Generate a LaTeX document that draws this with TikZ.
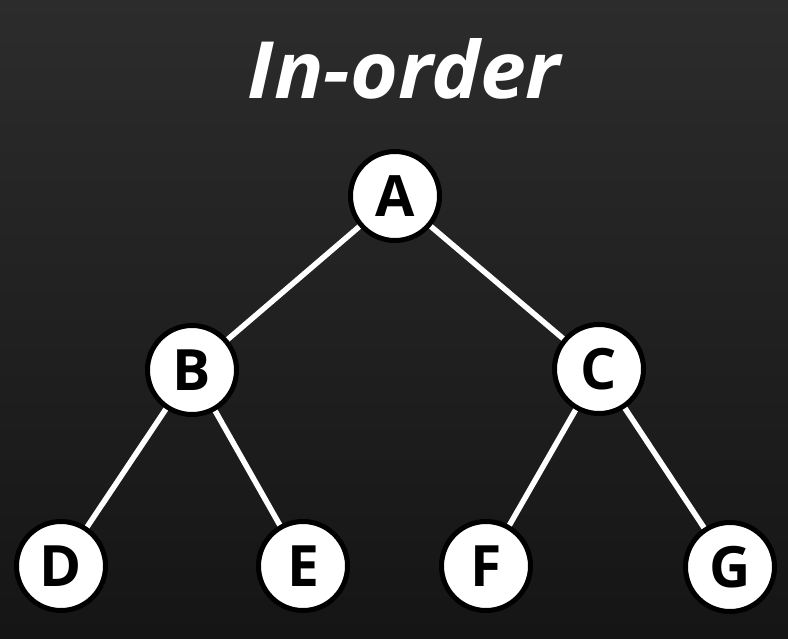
\documentclass[tikz,border=0pt]{standalone}
\usepackage{fontspec}
\setmainfont{Open Sans}
\newfontfamily\titlefont{Open Sans}
\pgfdeclarelayer{bg}
\pgfdeclarelayer{edges}
\pgfsetlayers{bg,edges,main}
\begin{document}
\begin{tikzpicture}[x=1pt,y=-1pt,
  tnode/.style={circle, draw=black, fill=white, line width=5pt, minimum size=89pt, inner sep=0pt,
    font=\fontsize{57}{60}\selectfont\bfseries, text=black},
  tedge/.style={draw=white, line width=5.5pt}]
\definecolor{bgtop}{HTML}{2C2C2C}
\definecolor{bgbot}{HTML}{151515}
\begin{pgfonlayer}{bg}
\shade[top color=bgtop, bottom color=bgbot] (0,0) rectangle (788,638);
\end{pgfonlayer}
\useasboundingbox (0,0) rectangle (788,638);
\node[text=white, font=\titlefont\bfseries\itshape\fontsize{79}{90}\selectfont, anchor=base, xscale=1.04] (title) at (404,98) {In-order};
\node[tnode] (A) at (395,196) {A};
\node[tnode] (B) at (192,370) {B};
\node[tnode] (C) at (599,369) {C};
\node[tnode] (D) at (61,566) {D};
\node[tnode] (E) at (303,566) {E};
\node[tnode] (F) at (486,566) {F};
\node[tnode] (G) at (730,567) {G};
\begin{pgfonlayer}{edges}
\path[tedge] (A.center) -- (B.center) (A.center) -- (C.center) (B.center) -- (D.center) (B.center) -- (E.center) (C.center) -- (F.center) (C.center) -- (G.center);
\end{pgfonlayer}
\end{tikzpicture}
\end{document}
